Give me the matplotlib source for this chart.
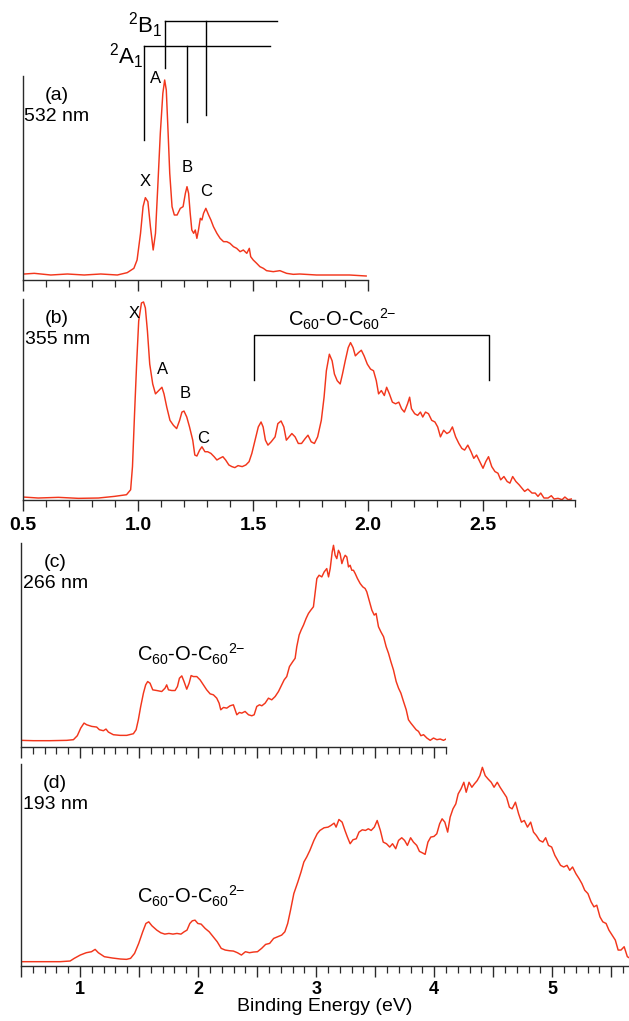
import matplotlib
matplotlib.use("Agg")
import matplotlib.pyplot as plt
from matplotlib.ticker import MultipleLocator, NullFormatter, FuncFormatter

plt.rcParams['font.family'] = ['Liberation Sans', 'DejaVu Sans']
plt.rcParams['mathtext.default'] = 'regular'

# ---------------- data ----------------
# (a) 532 nm
a_x = [0.506, 0.549, 0.621, 0.693, 0.766, 0.838, 0.910, 0.953, 0.982, 0.996, 1.011, 1.022, 1.032,
       1.043, 1.054, 1.066, 1.076, 1.086, 1.097, 1.108, 1.116, 1.123, 1.131, 1.138, 1.148, 1.158,
       1.170, 1.184, 1.196, 1.206, 1.213, 1.220, 1.227, 1.234, 1.242, 1.249, 1.256, 1.263, 1.271,
       1.278, 1.285, 1.295, 1.307, 1.317, 1.328, 1.343, 1.357, 1.372, 1.386, 1.400, 1.415, 1.429,
       1.444, 1.458, 1.473, 1.484, 1.490, 1.501, 1.516, 1.530, 1.545, 1.559, 1.588, 1.617, 1.646,
       1.675, 1.703, 1.776, 1.848, 1.920, 1.992]
a_y = [3, 5, 0, 3, 0, 3, 0, 7, 20, 45, 125, 205, 232, 220, 145, 75, 125, 265, 425, 545, 585, 555,
       425, 305, 205, 180, 180, 200, 205, 245, 265, 245, 185, 135, 125, 135, 110, 135, 170, 165,
       185, 200, 180, 165, 145, 125, 110, 100, 100, 95, 85, 80, 70, 75, 65, 80, 55, 45, 35, 25, 20,
       13, 10, 13, 5, 2, 3, 0, 0, 0, -3]

# (b) 355 nm
b_x = [0.500, 0.566, 0.654, 0.741, 0.828, 0.898, 0.950, 0.968, 0.976, 0.985, 0.994, 1.003, 1.015,
       1.024, 1.032, 1.041, 1.051, 1.064, 1.076, 1.090, 1.104, 1.113, 1.125, 1.139, 1.154, 1.168,
       1.181, 1.191, 1.200, 1.212, 1.224, 1.238, 1.247, 1.256, 1.268, 1.278, 1.291, 1.303, 1.317,
       1.331, 1.343, 1.355, 1.369, 1.381, 1.395, 1.408, 1.421, 1.435, 1.453, 1.469, 1.483, 1.495,
       1.509, 1.523, 1.535, 1.544, 1.554, 1.565, 1.579, 1.596, 1.608, 1.622, 1.634, 1.645, 1.657,
       1.669, 1.683, 1.697, 1.711, 1.727, 1.739, 1.753, 1.767, 1.781, 1.797, 1.809, 1.819, 1.832,
       1.844, 1.854, 1.866, 1.879, 1.889, 1.901, 1.914, 1.924, 1.935, 1.945, 1.959, 1.971, 1.983,
       1.997, 2.011, 2.024, 2.036, 2.046, 2.058, 2.071, 2.081, 2.093, 2.106, 2.120, 2.134, 2.146,
       2.158, 2.172, 2.181, 2.189, 2.203, 2.216, 2.228, 2.238, 2.250, 2.263, 2.277, 2.291, 2.303,
       2.315, 2.329, 2.343, 2.355, 2.367, 2.381, 2.395, 2.408, 2.420, 2.434, 2.448, 2.460, 2.472,
       2.486, 2.500, 2.512, 2.524, 2.538, 2.552, 2.565, 2.577, 2.591, 2.605, 2.617, 2.629, 2.643,
       2.657, 2.669, 2.681, 2.695, 2.713, 2.727, 2.739, 2.751, 2.765, 2.783, 2.797, 2.809, 2.826,
       2.844, 2.856, 2.870, 2.884]
b_y = [3, 0, 2, -1, 0, 5, 10, 25, 95, 255, 405, 535, 590, 593, 575, 505, 405, 345, 315, 325, 335,
       315, 275, 235, 220, 210, 235, 260, 263, 245, 215, 175, 130, 127, 145, 155, 140, 140, 135,
       125, 115, 120, 125, 115, 100, 95, 92, 98, 95, 100, 110, 135, 175, 215, 230, 215, 175, 160,
       170, 185, 225, 233, 215, 175, 185, 195, 185, 165, 165, 180, 190, 170, 165, 185, 235, 305,
       385, 435, 415, 375, 355, 345, 375, 415, 455, 470, 455, 430, 440, 447, 430, 405, 390, 385,
       355, 315, 325, 310, 335, 315, 290, 285, 290, 270, 260, 285, 305, 270, 255, 250, 260, 245,
       260, 255, 235, 230, 215, 185, 205, 195, 200, 215, 185, 165, 150, 145, 160, 140, 120, 130,
       110, 90, 110, 125, 95, 80, 75, 55, 65, 50, 45, 65, 50, 40, 30, 20, 27, 15, 15, 5, 15, 0, 0,
       7, -3, -1, -5, 3, -5, -3]

# (c) 266 nm
c_x = [0.500, 0.605, 0.746, 0.887, 0.944, 0.977, 1.006, 1.034, 1.056, 1.099, 1.141, 1.164, 1.198,
       1.220, 1.240, 1.282, 1.339, 1.395, 1.452, 1.475, 1.494, 1.514, 1.537, 1.556, 1.573, 1.593,
       1.616, 1.650, 1.692, 1.720, 1.734, 1.749, 1.777, 1.805, 1.825, 1.842, 1.862, 1.881, 1.904,
       1.924, 1.941, 1.960, 1.989, 2.017, 2.045, 2.073, 2.102, 2.130, 2.158, 2.178, 2.192, 2.215,
       2.243, 2.271, 2.299, 2.328, 2.350, 2.370, 2.398, 2.427, 2.455, 2.475, 2.497, 2.520, 2.540,
       2.568, 2.596, 2.624, 2.653, 2.681, 2.709, 2.729, 2.751, 2.774, 2.802, 2.822, 2.836, 2.856,
       2.873, 2.893, 2.915, 2.935, 2.955, 2.977, 2.992, 3.006, 3.025, 3.048, 3.068, 3.090, 3.105,
       3.119, 3.136, 3.147, 3.161, 3.175, 3.189, 3.203, 3.218, 3.232, 3.246, 3.260, 3.274, 3.288,
       3.302, 3.316, 3.331, 3.350, 3.373, 3.395, 3.415, 3.429, 3.452, 3.472, 3.492, 3.508, 3.528,
       3.548, 3.571, 3.593, 3.613, 3.633, 3.655, 3.678, 3.698, 3.718, 3.740, 3.763, 3.782, 3.802,
       3.825, 3.847, 3.867, 3.887, 3.910, 3.938, 3.966, 3.994, 4.023, 4.051, 4.079, 4.100]
c_y = [3, 2, 2, 3, 5, 17, 40, 55, 50, 45, 43, 35, 32, 37, 28, 20, 18, 18, 23, 35, 65, 105, 145,
       170, 180, 175, 155, 153, 150, 160, 170, 155, 153, 153, 165, 190, 197, 180, 157, 175, 198,
       195, 195, 185, 170, 155, 143, 140, 130, 115, 95, 102, 100, 107, 110, 80, 87, 85, 90, 80, 77,
       80, 105, 110, 107, 115, 130, 125, 135, 150, 170, 185, 195, 225, 240, 250, 285, 320, 335,
       350, 370, 385, 395, 405, 450, 490, 500, 495, 510, 520, 495, 520, 570, 590, 560, 550, 575,
       565, 535, 550, 560, 555, 525, 530, 515, 515, 505, 490, 475, 465, 460, 450, 420, 395, 380,
       385, 345, 330, 315, 285, 265, 240, 215, 180, 160, 145, 120, 95, 65, 55, 45, 35, 30, 17, 20,
       10, 3, 10, 5, 7, 3, 7]

# (d) 193 nm
d_x = [0.500, 0.660, 0.831, 0.916, 0.951, 1.002, 1.053, 1.097, 1.128, 1.155, 1.206, 1.275, 1.343,
       1.394, 1.428, 1.462, 1.497, 1.531, 1.558, 1.582, 1.609, 1.650, 1.684, 1.718, 1.753, 1.787,
       1.821, 1.855, 1.882, 1.906, 1.930, 1.951, 1.974, 1.998, 2.026, 2.060, 2.094, 2.128, 2.162,
       2.196, 2.230, 2.265, 2.299, 2.333, 2.367, 2.401, 2.435, 2.469, 2.503, 2.538, 2.572, 2.606,
       2.640, 2.674, 2.708, 2.735, 2.759, 2.783, 2.811, 2.845, 2.872, 2.896, 2.920, 2.947, 2.981,
       3.009, 3.032, 3.067, 3.101, 3.125, 3.152, 3.169, 3.193, 3.220, 3.244, 3.265, 3.288, 3.312,
       3.340, 3.363, 3.391, 3.418, 3.442, 3.466, 3.493, 3.517, 3.544, 3.568, 3.596, 3.623, 3.647,
       3.674, 3.698, 3.725, 3.749, 3.773, 3.800, 3.824, 3.852, 3.875, 3.903, 3.923, 3.947, 3.971,
       3.998, 4.022, 4.046, 4.067, 4.090, 4.114, 4.135, 4.159, 4.183, 4.203, 4.227, 4.251, 4.271,
       4.295, 4.319, 4.340, 4.364, 4.387, 4.408, 4.432, 4.456, 4.483, 4.507, 4.534, 4.558, 4.585,
       4.613, 4.637, 4.660, 4.688, 4.715, 4.739, 4.763, 4.790, 4.817, 4.841, 4.865, 4.892, 4.920,
       4.944, 4.968, 4.995, 5.022, 5.046, 5.070, 5.097, 5.125, 5.148, 5.172, 5.200, 5.227, 5.251,
       5.275, 5.302, 5.329, 5.353, 5.377, 5.404, 5.428, 5.456, 5.480, 5.507, 5.534, 5.558, 5.582,
       5.609, 5.636, 5.660]
d_y = [1, 1, 1, 3, 11, 21, 28, 31, 38, 28, 16, 12, 9, 8, 11, 26, 56, 91, 116, 121, 109, 96, 88,
       84, 86, 84, 86, 84, 91, 96, 116, 124, 126, 116, 114, 101, 91, 76, 61, 41, 36, 34, 33, 28,
       21, 31, 28, 30, 31, 41, 53, 56, 71, 76, 81, 91, 116, 156, 206, 241, 271, 301, 316, 336, 366,
       386, 396, 404, 406, 411, 418, 406, 429, 421, 396, 376, 356, 368, 371, 391, 398, 396, 401,
       396, 406, 426, 396, 361, 356, 346, 356, 341, 366, 374, 366, 351, 374, 361, 351, 333, 328,
       324, 361, 376, 378, 386, 416, 431, 421, 391, 436, 461, 476, 506, 521, 541, 511, 541, 526,
       536, 546, 561, 586, 561, 551, 541, 526, 541, 526, 511, 496, 466, 461, 481, 446, 421, 426,
       406, 421, 391, 381, 366, 361, 374, 351, 346, 321, 306, 291, 286, 291, 276, 286, 266, 251,
       236, 216, 206, 181, 166, 171, 136, 121, 116, 96, 81, 66, 36, 36, 46, 16, 11]

panel_tags = ['(a)', '(b)', '(c)', '(d)']
wavelengths = ['532 nm', '355 nm', '266 nm', '193 nm']

# peak labels: (text, x, y)
a_peaks = [('X', 1.030, 280), ('A', 1.076, 588), ('B', 1.216, 322), ('C', 1.297, 250)]
b_peaks = [('X', 0.985, 557), ('A', 1.107, 390), ('B', 1.203, 315), ('C', 1.285, 180)]

# vibrational progressions in (a)
prog_A1_x = [1.028, 1.213]
prog_A1_bottom = [405, 460]
prog_B1_x = [1.116, 1.295]
prog_B1_bottom = [620, 480]

dimer_label = r'C$_{60}$-O-C$_{60}$$^{2{-}}$'

# ---------------- figure ----------------
W, H = 629, 1021
fig = plt.figure(figsize=(W / 100, H / 100), dpi=100)

def add_axes(left, top, right, bottom):
    return fig.add_axes([left / W, 1 - bottom / H, (right - left) / W, (bottom - top) / H])

axA = add_axes(23, 76, 368, 280)
axB = add_axes(23, 299, 575, 500)
axC = add_axes(21, 543, 446, 747)
axD = add_axes(21, 764, 629, 966)

red = '#f2361c'
axis_col = '#2a2a2a'

def int_fmt(v, pos):
    return '%d' % round(v) if abs(v - round(v)) < 1e-6 else ''

configs = [
    (axA, a_x, a_y, (0.5, 2.0), (-15, 597), None),
    (axB, b_x, b_y, (0.5, 2.9), (-6, 602), '%.1f'),
    (axC, c_x, c_y, (0.5, 4.1), (-17, 597), None),
    (axD, d_x, d_y, (0.5, 5.65), (-12, 596), 'int'),
]
tag_centers = [57, 57, 55, 55]
ax_lefts = [23, 23, 21, 21]
ax_widths = [345, 552, 425, 608]

for i, (ax, xs, ys, xl, yl, fmt) in enumerate(configs):
    ax.plot(xs, ys, color=red, lw=1.05)
    ax.set_xlim(*xl)
    ax.set_ylim(*yl)
    for s in ['top', 'right']:
        ax.spines[s].set_visible(False)
    for s in ['left', 'bottom']:
        ax.spines[s].set_color(axis_col)
        ax.spines[s].set_linewidth(1.0)
    ax.set_yticks([])
    ax.xaxis.set_major_locator(MultipleLocator(0.5))
    ax.xaxis.set_minor_locator(MultipleLocator(0.1))
    ax.tick_params(axis='x', which='major', direction='out', length=8, width=1.0,
                   color=axis_col, labelsize=13, pad=3)
    ax.tick_params(axis='x', which='minor', direction='out', length=5, width=0.9,
                   color=axis_col)
    ax.patch.set_alpha(0)
    if fmt is None:
        ax.xaxis.set_major_formatter(NullFormatter())
    elif fmt == 'int':
        ax.xaxis.set_major_formatter(FuncFormatter(int_fmt))
    else:
        ax.xaxis.set_major_formatter(matplotlib.ticker.FormatStrFormatter(fmt))
    for lab in ax.get_xticklabels():
        lab.set_fontweight('bold')
    tx = (tag_centers[i] - ax_lefts[i]) / ax_widths[i]
    ax.text(tx, 0.905, panel_tags[i], transform=ax.transAxes,
            ha='center', va='center', fontsize=14)
    ax.text(0.004, 0.8, wavelengths[i], transform=ax.transAxes,
            ha='left', va='center', fontsize=14)

axB.tick_params(axis='x', which='major', labelsize=14, pad=4)
axD.set_xlabel('Binding Energy (eV)', fontsize=14, labelpad=0)

for t, x, y in a_peaks:
    axA.text(x, y, t, ha='center', va='center', fontsize=12)
for t, x, y in b_peaks:
    axB.text(x, y, t, ha='center', va='center', fontsize=12)

# progressions in (a)
A1_level, B1_level = 688, 763
axA.plot([prog_A1_x[0], 1.576], [A1_level, A1_level], color='k', lw=1.0, clip_on=False)
axA.plot([prog_B1_x[0], 1.605], [B1_level, B1_level], color='k', lw=1.0, clip_on=False)
for x, yb in zip(prog_A1_x, prog_A1_bottom):
    axA.plot([x, x], [A1_level, yb], color='k', lw=1.0, clip_on=False)
for x, yb in zip(prog_B1_x, prog_B1_bottom):
    axA.plot([x, x], [B1_level, yb], color='k', lw=1.0, clip_on=False)
axA.text(0.948, 657, r'$^{2}$A$_{1}$', ha='center', va='center', fontsize=16, clip_on=False)
axA.text(1.030, 750, r'$^{2}$B$_{1}$', ha='center', va='center', fontsize=16, clip_on=False)

# dimer bracket in (b)
br_x0, br_x1, br_top, br_bot = 1.503, 2.528, 493, 358
axB.plot([br_x0, br_x0, br_x1, br_x1], [br_bot, br_top, br_top, br_bot], color='k', lw=1.0)
axB.text(1.652, 540, dimer_label, ha='left', va='center', fontsize=14.5)
axC.text(1.48, 262, dimer_label, ha='left', va='center', fontsize=14.5)
axD.text(1.486, 196, dimer_label, ha='left', va='center', fontsize=14.5)

fig.savefig('out.png', dpi=100)
